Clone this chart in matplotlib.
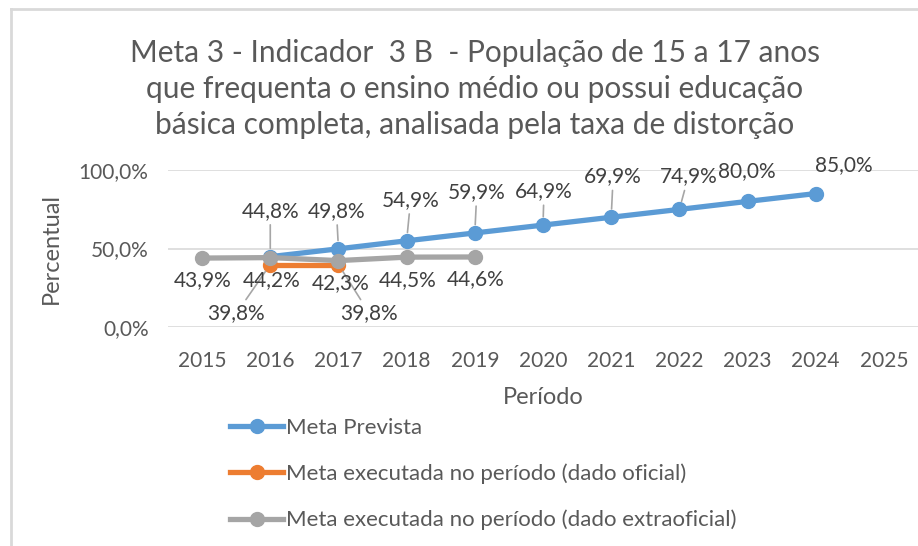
import matplotlib

matplotlib.use("Agg")

import matplotlib.pyplot as plt
from matplotlib.lines import Line2D
from matplotlib.ticker import FuncFormatter

plt.rcParams["font.family"] = ["Lato", "DejaVu Sans"]

YEARS = ["2015", "2016", "2017", "2018", "2019", "2020", "2021", "2022", "2023", "2024", "2025"]

PREVISTA_YEARS = ["2016", "2017", "2018", "2019", "2020", "2021", "2022", "2023", "2024"]
PREVISTA = [44.8, 49.8, 54.9, 59.9, 64.9, 69.9, 74.9, 80.0, 85.0]

OFICIAL_YEARS = ["2016", "2017"]
OFICIAL = [39.8, 39.8]

EXTRA_YEARS = ["2015", "2016", "2017", "2018", "2019"]
EXTRA = [43.9, 44.2, 42.3, 44.5, 44.6]

TITLE = ("Meta 3 - Indicador  3 B  - População de 15 a 17 anos\n"
         "que frequenta o ensino médio ou possui educação\n"
         "básica completa, analisada pela taxa de distorção")

# label offsets in pixels (dx, dy) and whether a leader line is drawn
PREV_OFF = [(0, 46), (-2, 38), (4, 41), (2, 41), (1, 34), (2, 41), (9, 33), (-1, 30), (28, 28)]
PREV_LEAD = [True, True, True, True, True, True, True, False, False]
OFIC_OFF = [(-34, -49), (31, -49)]
EXTRA_OFF = [(1, -22), (1, -22), (2, -23), (1, -23), (1, -22)]

BLUE = "#5B9BD5"
ORANGE = "#ED7D31"
GRAY = "#A5A5A5"
TXT = "#404040"
TICK = "#595959"


def pct(v):
    return f"{v:.1f}%".replace(".", ",")


fig = plt.figure(figsize=(9.18, 5.46), dpi=100)
ax = fig.add_axes([168 / 918, 1 - 327 / 546, 750 / 918, 157 / 546])

xpos = {y: i for i, y in enumerate(YEARS)}

series = [
    (PREVISTA_YEARS, PREVISTA, BLUE, "Meta Prevista"),
    (OFICIAL_YEARS, OFICIAL, ORANGE, "Meta executada no período (dado oficial)"),
    (EXTRA_YEARS, EXTRA, GRAY, "Meta executada no período (dado extraoficial)"),
]
for yrs, vals, col, lab in series:
    ax.plot([xpos[y] for y in yrs], vals, color=col, lw=3.8, marker="o", ms=10,
            solid_capstyle="round", label=lab, zorder=3)

lead = dict(arrowstyle="-", color="#A6A6A6", lw=1.2, shrinkA=1, shrinkB=6)


def labels(yrs, vals, offs, leads):
    for y, v, (dx, dy), ld in zip(yrs, vals, offs, leads):
        ax.annotate(pct(v), (xpos[y], v), xytext=(dx, dy), textcoords="offset pixels",
                    ha="center", va="center", fontsize=15, color=TXT,
                    arrowprops=lead if ld else None, zorder=4, annotation_clip=False)


labels(PREVISTA_YEARS, PREVISTA, PREV_OFF, PREV_LEAD)
labels(OFICIAL_YEARS, OFICIAL, OFIC_OFF, [True, True])
labels(EXTRA_YEARS, EXTRA, EXTRA_OFF, [False] * len(EXTRA))

ax.set_xlim(-0.5, len(YEARS) - 0.5)
ax.set_ylim(0, 100)
ax.set_yticks([0, 50, 100])
ax.yaxis.set_major_formatter(FuncFormatter(lambda v, _: pct(v)))
ax.set_xticks(range(len(YEARS)))
ax.set_xticklabels(YEARS)
ax.grid(axis="y", color="#D9D9D9", lw=1.2)
ax.set_axisbelow(True)
for s in ax.spines.values():
    s.set_visible(False)
ax.tick_params(length=0, labelsize=15, colors=TICK)
ax.tick_params(axis="y", pad=14)
ax.tick_params(axis="x", pad=17)
ax.set_xlabel("Período", fontsize=17, color=TICK, labelpad=12)
ax.set_ylabel("Percentual", fontsize=17, color=TICK, labelpad=12)

fig.text(475 / 918, 1 - 89 / 546, TITLE, ha="center", va="center", fontsize=21.5,
         color=TICK, linespacing=1.33)

handles = [Line2D([], [], color=c, lw=3.8, marker="o", ms=10) for _, _, c, _ in series]
fig.legend(handles, [s[3] for s in series], loc="upper left",
           bbox_to_anchor=(210 / 918, 1 - 398 / 546), frameon=False, fontsize=16,
           labelcolor=TICK, handlelength=2.4, handletextpad=0.1, labelspacing=1.15)

# chart frame
fig.add_artist(Line2D([11 / 918, 11 / 918], [0, 1 - 9 / 546], color="#D9D9D9", lw=2,
                      transform=fig.transFigure))
fig.add_artist(Line2D([11 / 918, 1], [1 - 9 / 546, 1 - 9 / 546], color="#D9D9D9", lw=2,
                      transform=fig.transFigure))

fig.savefig("out.png", dpi=100)
